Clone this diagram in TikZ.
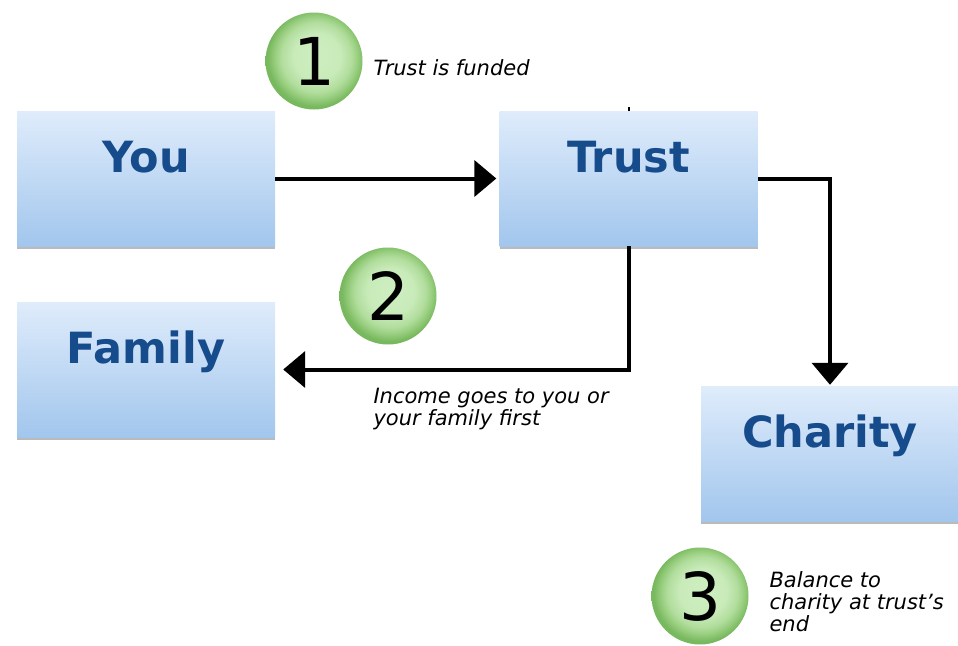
\documentclass[tikz,border=0pt]{standalone}
\usepackage{fontspec}
\setmainfont{DejaVu Sans}
\usetikzlibrary{arrows.meta,shadows}

\definecolor{boxtop}{RGB}{223,236,251}
\definecolor{boxbot}{RGB}{162,198,237}
\definecolor{boxtext}{RGB}{22,76,140}
\definecolor{ballhi}{RGB}{206,238,192}
\definecolor{ballmid}{RGB}{155,208,130}
\definecolor{balledge}{RGB}{120,184,94}
\pgfdeclareradialshading{greenball}{\pgfpoint{2bp}{3bp}}{color(0bp)=(ballhi); color(12bp)=(ballhi!90!ballmid); color(18bp)=(ballhi!45!ballmid); color(21bp)=(ballmid); color(25bp)=(balledge); color(50bp)=(balledge)}

\tikzset{
  box/.style={minimum width=258pt, minimum height=135pt, inner sep=0pt,
    top color=boxtop, bottom color=boxbot,
    drop shadow={shadow xshift=0pt, shadow yshift=-3pt, opacity=.45, fill=black!60}},
  boxlabel/.style={anchor=base, text=boxtext, font=\fontsize{43}{50}\selectfont\bfseries},
  ball/.style={circle, minimum size=97pt, inner sep=0pt, shading=greenball,
    font=\fontsize{66}{70}\selectfont},
  note/.style={anchor=base west, align=left, font=\fontsize{21}{22}\selectfont\itshape},
  flow/.style={line width=4pt, -{Triangle[width=36pt,length=22pt]}}
}

\begin{document}
\begin{tikzpicture}[x=1pt,y=-1pt]
\useasboundingbox (0,0) rectangle (958,645);

% boxes
\node [box] (you) at (146,178.5) {};
\node [box] (trust) at (628.5,178.5) {};
\node [box] (family) at (146,369.5) {};
\node [box] (charity) at (830,453.5) {};

\node [boxlabel] (youtext) at ([yshift=6.5pt]you.center) {You};
\node [boxlabel] (trusttext) at ([yshift=6.5pt]trust.center) {Trust};
\node [boxlabel] (familytext) at ([yshift=6.5pt]family.center) {Family};
\node [boxlabel] (charitytext) at ([yshift=6.5pt]charity.center) {Charity};

% arrows
\draw [flow, shorten >=3pt] (you) -- (trust);
\draw [flow, shorten >=1pt] (trust.east) -| (charity.north);
\draw [flow, shorten >=8pt] (trust.south) |- (family.east);
\draw [line width=2pt] (trust.north) -- ++(0,-4);

% steps
\node [ball] (one) at (314,61) {1};
\node [ball] (two) at (388,296) {2};
\node [ball] (three) at (700,596) {3};

\node [note] (onetext) at (370,75) {Trust is funded};
\node [note] (twotext) at (370,425) {Income goes to you or\\your family first};
\node [note] (threetext) at (766,631) {Balance to\\charity at trust’s\\end};
\end{tikzpicture}
\end{document}
